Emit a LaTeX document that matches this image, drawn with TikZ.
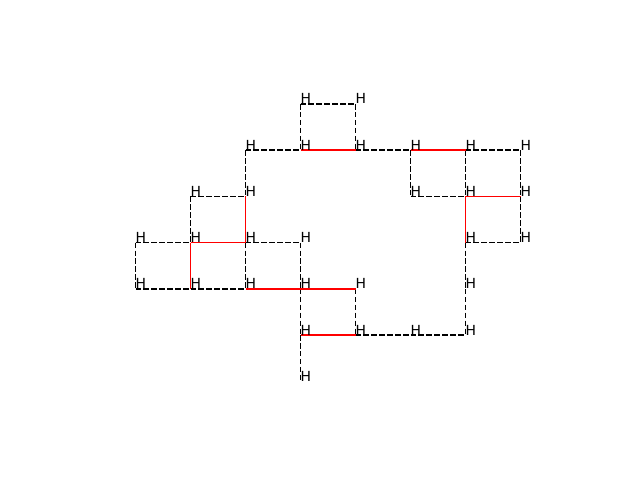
\documentclass[tikz,border=0pt]{standalone}
\usepackage{fontspec}
\setmainfont{DejaVu Sans}
\begin{document}
\begin{tikzpicture}[x=1pt,y=1pt,
  bond/.style={black,line width=1.5pt,dash pattern=on 5.55pt off 2.4pt},
  redbond/.style={red,line width=1.5pt},
  atom/.style={anchor=base west,inner sep=0pt,font=\fontsize{13.9}{14}\selectfont}]
\useasboundingbox (0,0) rectangle (640,480);
\foreach \c in {0,...,7}{
  \foreach \r in {0,...,6}{
    \coordinate (p\c\r) at ({135.5+55*\c},{480-(104+46.2*\r)});
  }
}
% dashed bonds
\foreach \a/\b in {30/40,30/31,40/41,21/31,41/51,61/71,21/22,51/52,61/62,71/72,
  12/22,52/62,12/13,72/73,03/13,23/33,63/73,03/04,23/24,33/34,63/64,
  04/14,14/24,34/35,44/45,64/65,45/55,55/65,35/36}
  \draw[bond] (p\a) -- (p\b);
% red bonds
\foreach \a/\b in {31/41,51/61,62/72,22/23,62/63,13/23,13/14,24/34,34/44,35/45}
  \draw[redbond] (p\a) -- (p\b);
% atoms
\foreach \p in {30,40,21,31,41,51,61,71,12,22,52,62,72,03,13,23,33,63,73,
  04,14,24,34,44,64,35,45,55,65,36}
  \node[atom] (h\p) at (p\p) {H};
\end{tikzpicture}
\end{document}
